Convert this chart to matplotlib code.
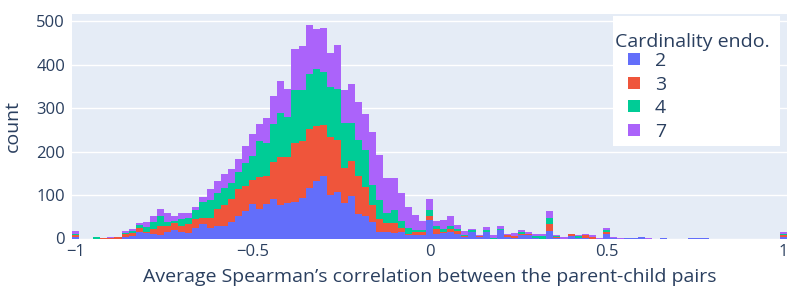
import numpy as np
import matplotlib
matplotlib.use("Agg")
import matplotlib.pyplot as plt
from matplotlib.patches import Patch, Rectangle
from matplotlib.legend_handler import HandlerPatch

plt.rcParams['font.family'] = ['Open Sans', 'DejaVu Sans']

# bins: width 0.02, centred on -1.00, -0.98, ..., 1.00
bin_width = 0.02
bin_start = -1.0
n_bins = 101

series_names = ["2", "3", "4", "7"]
colors = ["#636efa", "#ef553b", "#00cc96", "#ab63fa"]

card2 = [4, 0, 0, 0, 0, 0, 0, 4, 6, 14, 12, 11, 8, 15, 19, 16, 12, 25, 33, 24,
         28, 28, 38, 52, 63, 80, 67, 80, 90, 77, 81, 84, 93, 116, 132, 144, 99, 107, 82, 98,
         57, 52, 39, 16, 16, 12, 15, 7, 8, 8, 42, 11, 12, 15, 11, 3, 15, 3, 15, 0,
         19, 4, 2, 8, 8, 1, 0, 17, 2, 0, 5, 2, 2, 0, 0, 11, 1, 0, 1, 1,
         3, 0, 0, 1, 0, 0, 0, 1, 1, 1, 0, 0, 0, 0, 0, 0, 0, 0, 0, 0, 4]
card3 = [4, 0, 0, 0, 2, 2, 3, 6, 6, 10, 2, 11, 20, 14, 16, 12, 21, 19, 15, 24,
         39, 48, 52, 62, 58, 55, 74, 64, 87, 111, 107, 135, 131, 136, 127, 117, 134, 120, 80, 80,
         87, 67, 37, 28, 20, 23, 10, 3, 7, 7, 10, 10, 3, 6, 6, 2, 1, 2, 0, 0,
         0, 3, 3, 3, 3, 1, 0, 16, 1, 0, 5, 0, 5, 4, 0, 4, 0, 0, 0, 0,
         0, 0, 0, 0, 0, 0, 0, 0, 0, 0, 0, 0, 0, 0, 0, 0, 0, 0, 0, 0, 3]
card4 = [3, 0, 0, 4, 0, 0, 0, 3, 5, 6, 13, 16, 24, 9, 6, 16, 15, 21, 36, 40,
         37, 41, 37, 39, 52, 55, 83, 75, 87, 100, 91, 123, 118, 127, 131, 123, 115, 117, 103, 87,
         83, 85, 46, 44, 23, 30, 15, 15, 4, 4, 13, 7, 6, 7, 6, 3, 3, 0, 4, 2,
         2, 0, 0, 4, 0, 3, 5, 15, 2, 0, 0, 3, 0, 0, 0, 4, 0, 0, 0, 0,
         0, 0, 0, 0, 0, 0, 0, 0, 0, 0, 0, 0, 0, 0, 0, 0, 0, 0, 0, 0, 3]
card7 = [7, 0, 0, 0, 0, 2, 0, 5, 5, 5, 11, 14, 16, 20, 11, 15, 11, 7, 11, 25,
         28, 31, 33, 29, 41, 51, 40, 59, 64, 75, 65, 93, 102, 113, 91, 101, 80, 102, 77, 91,
         88, 83, 122, 104, 80, 74, 65, 48, 35, 21, 26, 12, 21, 23, 8, 9, 2, 4, 7, 6,
         7, 3, 7, 4, 4, 5, 5, 15, 2, 3, 0, 3, 3, 4, 1, 5, 2, 1, 0, 0,
         0, 1, 0, 0, 0, 0, 0, 0, 0, 0, 0, 0, 0, 0, 0, 0, 0, 0, 0, 0, 5]

x_ticks = [-1, -0.5, 0, 0.5, 1]
x_ticklabels = ["\u22121", "\u22120.5", "0", "0.5", "1"]
y_ticks = [0, 100, 200, 300, 400, 500]

x_label = "Average Spearman\u2019s correlation between the parent-child pairs"
y_label = "count"
legend_title = "Cardinality endo."

text_color = "#2a3f5f"
bg_color = "#e5ecf6"

W, H = 797, 296
fig = plt.figure(figsize=(W / 100, H / 100), dpi=100)
AX_L, AX_T, AX_W, AX_H = 72, 14, 715, 224.5
ax = fig.add_axes([AX_L / W, 1 - (AX_T + AX_H) / H, AX_W / W, AX_H / H])
ax.set_facecolor(bg_color)

def px_to_ax(px, py):
    return ((px - AX_L) / AX_W, 1 - (py - AX_T) / AX_H)

centers = bin_start + bin_width * np.arange(n_bins)
bottom = np.zeros(n_bins)
handles = []
for name, vals, col in zip(series_names, [card2, card3, card4, card7], colors):
    v = np.array(vals, dtype=float)
    ax.bar(centers, v, width=bin_width, bottom=bottom, color=col, linewidth=0, zorder=3)
    bottom += v
    handles.append(Patch(facecolor=col, edgecolor='none', label=name))

ax.set_xlim(bin_start - bin_width / 2, bin_start + bin_width * (n_bins - 0.5))
ax.set_ylim(0, max(bottom) * 1.05)

ax.set_yticks(y_ticks)
ax.set_xticks(x_ticks)
ax.set_xticklabels(x_ticklabels)
ax.grid(axis='y', color='white', linewidth=1, zorder=1)
ax.set_axisbelow(True)
for s in ax.spines.values():
    s.set_visible(False)
ax.tick_params(axis='both', length=0, labelsize=12, labelcolor=text_color)
ax.tick_params(axis='y', pad=5)
ax.tick_params(axis='x', pad=4)

ax.set_xlabel(x_label, fontsize=14, color=text_color, labelpad=6)
ax.set_ylabel(y_label, fontsize=14, color=text_color, labelpad=10)

# legend box (white, no border)
bx0, by0 = px_to_ax(613, 146)
bx1, by1 = px_to_ax(780, 16)
ax.add_patch(Rectangle((bx0, by0), bx1 - bx0, by1 - by0, transform=ax.transAxes,
                       facecolor='white', edgecolor='none', zorder=8, clip_on=False))

SQ = 12 * 72 / 100  # square size in points


class SquareHandler(HandlerPatch):
    def create_artists(self, legend, orig_handle, xdescent, ydescent, width, height,
                       fontsize, trans):
        x0 = -xdescent + width - SQ
        y0 = -ydescent + (height - SQ) / 2
        p = Rectangle((x0, y0), SQ, SQ, facecolor=orig_handle.get_facecolor(),
                      edgecolor='none', transform=trans)
        return [p]


lx, ly = px_to_ax(615, 33)
leg = ax.legend(handles=handles, title=legend_title, loc='upper left',
                bbox_to_anchor=(lx, ly), borderaxespad=0,
                fontsize=14, title_fontsize=14, frameon=False,
                handlelength=1.3, handleheight=0.7, handletextpad=0.75,
                labelspacing=0.29, borderpad=0, alignment='left',
                handler_map={Patch: SquareHandler()})
leg._legend_box.sep = 0.7
leg.get_title().set_color(text_color)
for t in leg.get_texts():
    t.set_color(text_color)
leg.set_zorder(10)

fig.savefig("out.png", dpi=100)
